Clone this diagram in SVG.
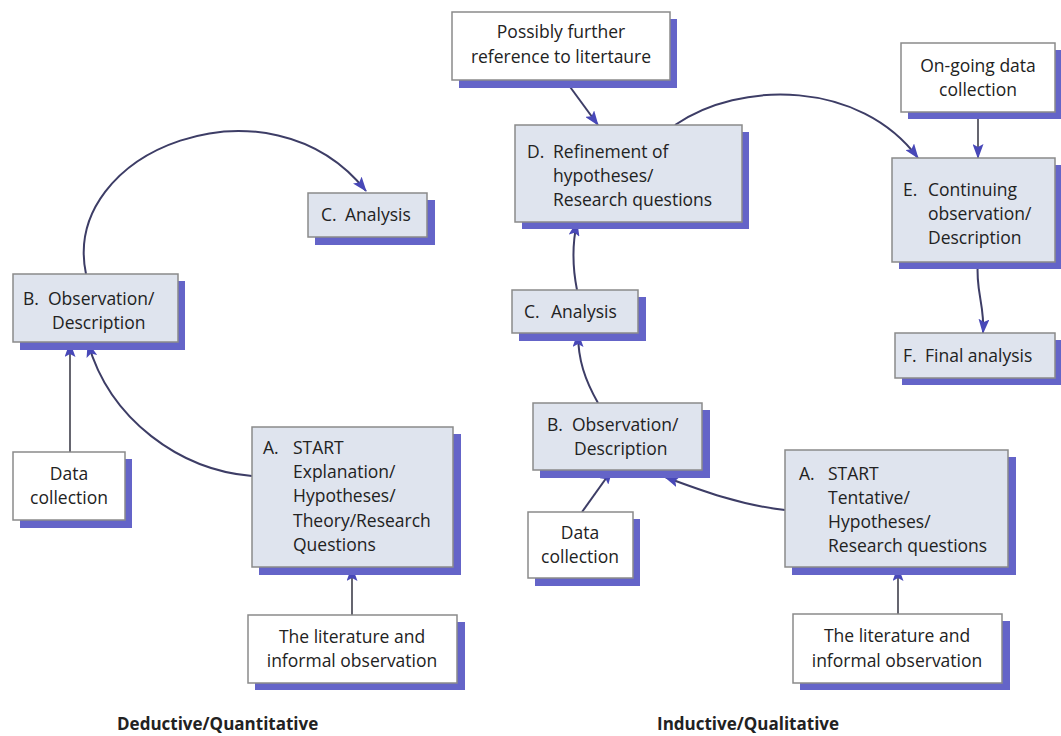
<svg xmlns="http://www.w3.org/2000/svg" width="1061" height="736" viewBox="0 0 1061 736">
<defs>
<style>
.sh{fill:#6464c8}
.bx{fill:#dfe4ee;stroke:#8a8a8a;stroke-width:1.5}
.wb{fill:#ffffff;stroke:#8a8a8a;stroke-width:1.5}
text{font-family:"Open Sans","Liberation Sans",sans-serif;font-size:17.5px;fill:#222222}
.c{text-anchor:middle}
.t{font-weight:bold;font-size:17px}
.cn{fill:none;stroke:#3d3d66;stroke-width:2}
.cg{fill:none;stroke:#555560;stroke-width:1.8}
</style>
<marker id="ah" viewBox="0 0 15 11" refX="14" refY="5.5" markerWidth="15" markerHeight="11" markerUnits="userSpaceOnUse" orient="auto">
<path d="M0,0 L15,5.5 L0,11 L3,5.5 Z" fill="#4848b8"/>
</marker>
</defs>
<rect width="1061" height="736" fill="#ffffff"/>

<g id="connectors">
<path class="cn" d="M 86 274 C 60 150, 270 70, 366 191" marker-end="url(#ah)"/>
<path class="cg" d="M 70 452 L 70 343" marker-end="url(#ah)"/>
<path class="cn" d="M 252 476 C 180 470, 110 420, 88 343" marker-end="url(#ah)"/>
<path class="cg" d="M 352 615 L 352 567" marker-end="url(#ah)"/>
<path class="cn" d="M 565 80 L 598 125" marker-end="url(#ah)"/>
<path class="cn" d="M 675 125 C 740 80, 860 80, 918 158" marker-end="url(#ah)"/>
<path class="cg" d="M 978 112 L 978 158" marker-end="url(#ah)"/>
<path class="cn" d="M 978 262 C 975 290, 985 305, 983 333" marker-end="url(#ah)"/>
<path class="cn" d="M 577 290 C 572 265, 572 245, 577 222" marker-end="url(#ah)"/>
<path class="cn" d="M 598 403 C 585 380, 578 360, 578 333" marker-end="url(#ah)"/>
<path class="cn" d="M 582 512 L 612 470" marker-end="url(#ah)"/>
<path class="cn" d="M 785 510 C 740 505, 700 490, 665 477" marker-end="url(#ah)"/>
<path class="cg" d="M 898 614 L 898 567" marker-end="url(#ah)"/>
</g>

<g id="left-C">
<rect class="sh" x="315" y="200" width="120" height="45"/>
<rect class="bx" x="308" y="193" width="119" height="44"/>
<text x="321" y="221">C.</text><text x="345" y="221">Analysis</text>
</g>
<g id="left-B">
<rect class="sh" x="20" y="281" width="165" height="69"/>
<rect class="bx" x="13" y="274" width="165" height="68"/>
<text x="23" y="305">B.</text><text x="48" y="305">Observation/</text>
<text x="52" y="329">Description</text>
</g>
<g id="left-A">
<rect class="sh" x="259" y="434" width="202" height="141"/>
<rect class="bx" x="252" y="427" width="201" height="140"/>
<text x="263" y="454">A.</text><text x="293" y="454">START</text>
<text x="293" y="478">Explanation/</text>
<text x="293" y="502">Hypotheses/</text>
<text x="293" y="527">Theory/Research</text>
<text x="293" y="551">Questions</text>
</g>
<g id="left-data">
<rect class="sh" x="20" y="459" width="112" height="69"/>
<rect class="wb" x="13" y="452" width="112" height="68"/>
<text class="c" x="69" y="480">Data</text>
<text class="c" x="69" y="504">collection</text>
</g>
<g id="left-lit">
<rect class="sh" x="255" y="622" width="210" height="68"/>
<rect class="wb" x="248" y="615" width="209" height="68"/>
<text class="c" x="352" y="643">The literature and</text>
<text class="c" x="352" y="667">informal observation</text>
</g>
<text class="t" x="117" y="730">Deductive/Quantitative</text>

<g id="right-further">
<rect class="sh" x="459" y="19" width="218" height="69"/>
<rect class="wb" x="452" y="12" width="218" height="68"/>
<text class="c" x="561" y="38">Possibly further</text>
<text class="c" x="561" y="63">reference to litertaure</text>
</g>
<g id="right-D">
<rect class="sh" x="522" y="132" width="227" height="97"/>
<rect class="bx" x="515" y="125" width="227" height="97"/>
<text x="527" y="158">D.</text><text x="553" y="158">Refinement of</text>
<text x="553" y="182">hypotheses/</text>
<text x="553" y="206">Research questions</text>
</g>
<g id="right-ongoing">
<rect class="sh" x="908" y="50" width="153" height="69"/>
<rect class="wb" x="901" y="43" width="154" height="69"/>
<text class="c" x="978" y="72">On-going data</text>
<text class="c" x="978" y="96">collection</text>
</g>
<g id="right-E">
<rect class="sh" x="899" y="165" width="162" height="104"/>
<rect class="bx" x="892" y="158" width="163" height="104"/>
<text x="903" y="196">E.</text><text x="928" y="196">Continuing</text>
<text x="928" y="220">observation/</text>
<text x="928" y="244">Description</text>
</g>
<g id="right-F">
<rect class="sh" x="902" y="340" width="159" height="45"/>
<rect class="bx" x="895" y="333" width="160" height="45"/>
<text x="903" y="362">F.</text><text x="925" y="362">Final analysis</text>
</g>
<g id="right-C">
<rect class="sh" x="519" y="297" width="127" height="44"/>
<rect class="bx" x="512" y="290" width="126" height="43"/>
<text x="524" y="318">C.</text><text x="551" y="318">Analysis</text>
</g>
<g id="right-B">
<rect class="sh" x="540" y="410" width="170" height="68"/>
<rect class="bx" x="533" y="403" width="169" height="67"/>
<text x="547" y="431">B.</text><text x="572" y="431">Observation/</text>
<text x="574" y="455">Description</text>
</g>
<g id="right-data">
<rect class="sh" x="535" y="519" width="105" height="67"/>
<rect class="wb" x="528" y="512" width="105" height="66"/>
<text class="c" x="580" y="539">Data</text>
<text class="c" x="580" y="563">collection</text>
</g>
<g id="right-A">
<rect class="sh" x="792" y="457" width="224" height="118"/>
<rect class="bx" x="785" y="450" width="223" height="117"/>
<text x="799" y="480">A.</text><text x="828" y="480">START</text>
<text x="828" y="504">Tentative/</text>
<text x="828" y="528">Hypotheses/</text>
<text x="828" y="552">Research questions</text>
</g>
<g id="right-lit">
<rect class="sh" x="800" y="621" width="210" height="69"/>
<rect class="wb" x="793" y="614" width="209" height="69"/>
<text class="c" x="897" y="642">The literature and</text>
<text class="c" x="897" y="667">informal observation</text>
</g>
<text class="t" x="657" y="730">Inductive/Qualitative</text>
</svg>
